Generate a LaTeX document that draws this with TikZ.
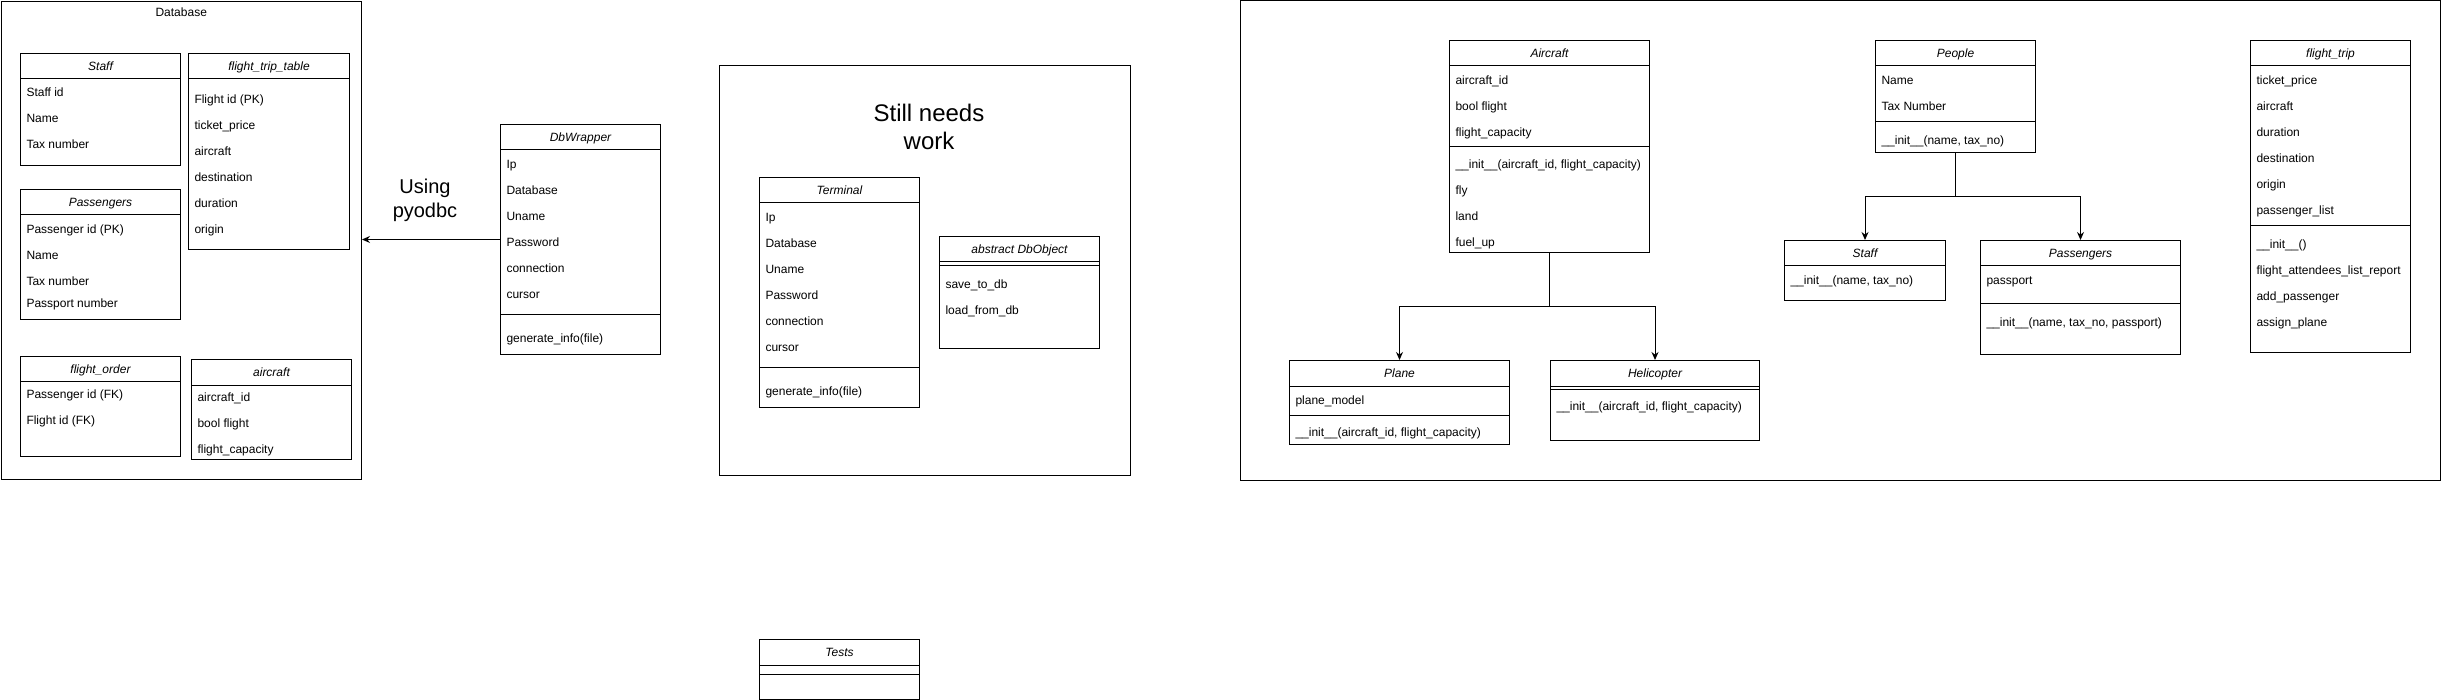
\documentclass[tikz,border=0pt]{standalone}
\usepackage{fontspec}
\setmainfont{Liberation Sans}
\usetikzlibrary{positioning,arrows.meta}

% class box: name, top left, width, height, title
\newcommand{\umlclass}[5]{%
  \node[classbox,minimum width=#3pt,minimum height=#4pt] (#1) at (#2) {};
  \node[classtitle] (#1-title) at ([yshift=-13pt]#1.north) {#5};
  \draw ([yshift=-26pt]#1.north west) -- ([yshift=-26pt]#1.north east);
}
% separator line, offset from top of box
\newcommand{\umlsep}[2]{\draw ([yshift=-#2pt]#1.north west) -- ([yshift=-#2pt]#1.north east);}
% rows of a section: name, x, first y, items
\newcommand{\umlrows}[4]{%
  \foreach \t [count=\i] in {#4}
    \node[rowtext] (#1-\i) at (#2,#3+26*\i-26) {\t};
}

\begin{document}
\begin{tikzpicture}[x=1pt,y=-1pt,line width=1pt,>={Stealth[length=8pt,width=7pt]},
    font=\fontsize{12}{14.4}\selectfont,
    classbox/.style={draw,rectangle,anchor=north west,inner sep=0pt},
    frame/.style={draw,rectangle,anchor=north west,inner sep=0pt},
    classtitle/.style={inner sep=0pt,text height=8.6pt,text depth=0pt,font=\fontsize{12}{14.4}\selectfont\itshape},
    rowtext/.style={anchor=west,inner sep=0pt,text height=8.6pt,text depth=0pt},
    bigtext/.style={inner sep=0pt,align=center}]
\useasboundingbox (0,0) rectangle (2441,700);

% database tables
\node[frame,minimum width=360.5pt,minimum height=478pt] (Database) at (0.5,1) {};
\node[classtitle,font=\fontsize{12}{14.4}\selectfont] (Database-title) at ([yshift=-11pt]Database.north) {Database};

\umlclass{dbStaff}{20,53}{160}{112}{Staff}
\umlrows{dbStaff-a}{26}{92}{Staff id, Name, Tax number}

\umlclass{dbTrip}{188,53}{161}{196}{flight\_trip\_table}
\umlrows{dbTrip-a}{194}{99}{Flight id (PK), ticket\_price, aircraft, destination, duration, origin}

\umlclass{dbPass}{20,189}{160}{130}{Passengers}
\umlrows{dbPass-a}{26}{229}{Passenger id (PK), Name, Tax number}
\node[rowtext] (dbPass-b) at (26,303) {Passport number};

\umlclass{dbOrder}{20,356}{160}{100}{flight\_order}
\umlrows{dbOrder-a}{26}{394}{Passenger id (FK), Flight id (FK)}

\umlclass{dbAircraft}{191,359}{160}{100}{aircraft}
\umlrows{dbAircraft-a}{197}{397}{aircraft\_id, bool flight, flight\_capacity}

% wrapper
\umlclass{DbWrapper}{500,124}{160}{230}{DbWrapper}
\umlrows{DbWrapper-a}{506}{164}{Ip, Database, Uname, Password, connection, cursor}
\umlsep{DbWrapper}{191}
\umlrows{DbWrapper-m}{506}{338}{generate\_info(file)}

\draw[->] (DbWrapper.west) -- (DbWrapper.west -| Database.east);
\node[bigtext,font=\fontsize{20}{24}\selectfont] (using) at (425,200) {Using\\pyodbc};

% unfinished part
\node[frame,minimum width=411pt,minimum height=410pt] (Work) at (719,65) {};
\node[bigtext,font=\fontsize{24}{28.8}\selectfont] (work-title) at (929,127) {Still needs\\work};

\umlclass{Terminal}{759,177}{160}{230}{Terminal}
\umlrows{Terminal-a}{765}{217}{Ip, Database, Uname, Password, connection, cursor}
\umlsep{Terminal}{191}
\umlrows{Terminal-m}{765}{391}{generate\_info(file)}

\umlclass{DbObject}{939,236}{160}{112}{abstract DbObject}
\umlsep{DbObject}{29.5}
\umlrows{DbObject-m}{945}{284}{save\_to\_db, load\_from\_db}

\umlclass{Tests}{759,639}{160}{60}{Tests}
\umlsep{Tests}{35}

% classes
\node[frame,minimum width=1200pt,minimum height=479.5pt] (Classes) at (1240,0.5) {};

\umlclass{Aircraft}{1449,40}{200}{212}{Aircraft}
\umlrows{Aircraft-a}{1455}{80}{aircraft\_id, bool flight, flight\_capacity}
\umlsep{Aircraft}{107}
\umlrows{Aircraft-m}{1455}{164}{{\_\_init\_\_(aircraft\_id, flight\_capacity)}, fly, land, fuel\_up}

\umlclass{Plane}{1289,360}{220}{84}{Plane}
\umlrows{Plane-a}{1295}{400}{plane\_model}
\umlsep{Plane}{55}
\umlrows{Plane-m}{1295}{432}{{\_\_init\_\_(aircraft\_id, flight\_capacity)}}

\umlclass{Helicopter}{1550,360}{209}{80}{Helicopter}
\umlsep{Helicopter}{29.5}
\umlrows{Helicopter-m}{1556}{406}{{\_\_init\_\_(aircraft\_id, flight\_capacity)}}

\umlclass{People}{1875,40}{160}{112}{People}
\umlrows{People-a}{1881}{80}{Name, Tax Number}
\umlsep{People}{82}
\umlrows{People-m}{1881}{140}{{\_\_init\_\_(name, tax\_no)}}

\umlclass{clStaff}{1784,240}{161}{60}{Staff}
\umlrows{clStaff-m}{1790}{280}{{\_\_init\_\_(name, tax\_no)}}

\umlclass{clPass}{1980,240}{200}{114}{Passengers}
\umlrows{clPass-a}{1986}{280}{passport}
\umlsep{clPass}{64}
\umlrows{clPass-m}{1986}{322}{{\_\_init\_\_(name, tax\_no, passport)}}

\umlclass{Trip}{2250,40}{160}{312}{flight\_trip}
\umlrows{Trip-a}{2256}{80}{ticket\_price, aircraft, duration, destination, origin, passenger\_list}
\umlsep{Trip}{186}
\umlrows{Trip-m}{2256}{244}{\_\_init\_\_(), flight\_attendees\_list\_report, add\_passenger, assign\_plane}

% inheritance
\draw[->] (Aircraft.south) -- ++(0,54) -| (Plane.north);
\draw[->] (Aircraft.south) -- ++(0,54) -| (Helicopter.north);
\draw[->] (People.south) -- ++(0,44) -| (clStaff.north);
\draw[->] (People.south) -- ++(0,44) -| (clPass.north);

\end{tikzpicture}
\end{document}
